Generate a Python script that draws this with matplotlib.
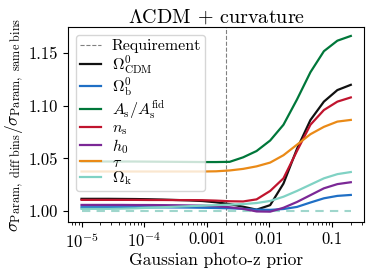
import matplotlib
matplotlib.use("Agg")
import matplotlib.pyplot as plt
from matplotlib.ticker import FixedLocator, NullFormatter

plt.rcParams['font.family'] = 'serif'
plt.rcParams['font.serif'] = ['cmr10']
plt.rcParams['mathtext.fontset'] = 'cm'
plt.rcParams['axes.formatter.use_mathtext'] = True

# photo-z prior grid
prior = [1.0e-5, 1.64e-5, 2.69e-5, 4.42e-5, 7.25e-5, 1.19e-4, 1.95e-4, 3.20e-4,
         5.25e-4, 8.61e-4, 1.41e-3, 2.32e-3, 3.81e-3, 6.25e-3, 1.03e-2, 1.68e-2,
         2.76e-2, 4.53e-2, 7.43e-2, 1.22e-1, 2.0e-1]

omega_cdm = [1.0115, 1.0115, 1.0115, 1.0114, 1.0113, 1.0111, 1.0108, 1.0104, 1.0100, 1.0094,
             1.0082, 1.0065, 1.0040, 1.0012, 1.0055, 1.0260, 1.0590, 1.0865, 1.1040, 1.1150, 1.1200]
omega_b = [1.0035, 1.0035, 1.0035, 1.0035, 1.0035, 1.0034, 1.0034, 1.0033, 1.0032, 1.0030,
           1.0028, 1.0025, 1.0020, 1.0012, 1.0010, 1.0018, 1.0038, 1.0080, 1.0120, 1.0143, 1.0152]
a_s = [1.0470, 1.0470, 1.0470, 1.0470, 1.0470, 1.0469, 1.0468, 1.0467, 1.0466, 1.0465,
       1.0465, 1.0467, 1.0510, 1.0570, 1.0670, 1.0820, 1.1060, 1.1320, 1.1520, 1.1620, 1.1665]
n_s = [1.0105, 1.0105, 1.0105, 1.0105, 1.0105, 1.0104, 1.0104, 1.0103, 1.0103, 1.0102,
       1.0098, 1.0092, 1.0090, 1.0110, 1.0190, 1.0310, 1.0570, 1.0820, 1.0960, 1.1040, 1.1080]
h_0 = [1.0057, 1.0057, 1.0057, 1.0057, 1.0056, 1.0056, 1.0055, 1.0054, 1.0052, 1.0050,
       1.0045, 1.0035, 1.0020, 0.9995, 0.9993, 1.0030, 1.0085, 1.0150, 1.0215, 1.0255, 1.0273]
tau = [1.0375, 1.0375, 1.0375, 1.0375, 1.0375, 1.0375, 1.0375, 1.0375, 1.0375, 1.0375,
       1.0377, 1.0385, 1.0400, 1.0424, 1.0460, 1.0530, 1.0630, 1.0730, 1.0800, 1.0850, 1.0866]
omega_k = [1.0020, 1.0020, 1.0020, 1.0022, 1.0025, 1.0030, 1.0035, 1.0040, 1.0045, 1.0050,
           1.0055, 1.0060, 1.0065, 1.0075, 1.0095, 1.0135, 1.0190, 1.0250, 1.0310, 1.0350, 1.0370]
baseline = [1.0] * len(prior)
requirement = 0.002

series = [
    (omega_cdm, r'$\Omega^0_{\rm CDM}$', '#111111'),
    (omega_b, r'$\Omega^0_{\rm b}$', '#1f6fc5'),
    (a_s, r'$A_{\rm s}/A_{\rm s}^{\rm fid}$', '#00773a'),
    (n_s, r'$n_{\rm s}$', '#c0142e'),
    (h_0, r'$h_0$', '#7b2896'),
    (tau, r'$\tau$', '#ea8a17'),
    (omega_k, r'$\Omega_{\rm k}$', '#80d2c4'),
]

fig = plt.figure(figsize=(3.74, 2.73), dpi=100)
ax = fig.add_axes([0.182, 0.187, 0.792, 0.714])

ax.axvline(requirement, color='gray', ls='--', lw=0.8, label='Requirement')
ax.plot(prior, baseline, color='#9fd6cc', ls='--', lw=1.5, dashes=(4, 3))
for y, name, c in series:
    ax.plot(prior, y, color=c, lw=1.6, label=name)

ax.set_xscale('log')
ax.set_ylim(0.9895, 1.175)
ax.xaxis.set_major_locator(FixedLocator([1e-5, 1e-4, 1e-3, 1e-2, 1e-1]))
ax.set_xticklabels([r'$10^{-5}$', r'$10^{-4}$', '0.001', '0.01', '0.1'])
ax.xaxis.set_minor_formatter(NullFormatter())
ax.set_yticks([1.00, 1.05, 1.10, 1.15])
ax.set_yticklabels(['1.00', '1.05', '1.10', '1.15'])
ax.tick_params(labelsize=12)

ax.set_xlabel('Gaussian photo-z prior', fontsize=12.5, labelpad=1)
ax.set_ylabel(r'$\sigma_{\rm Param,\ diff\ bins}/\sigma_{\rm Param,\ same\ bins}$', fontsize=12.5, labelpad=2)
ax.set_title(r'$\Lambda$CDM + curvature', fontsize=14.5, pad=3)

ax.legend(loc='upper left', fontsize=11.5, handlelength=1.3, labelspacing=0.0,
          borderpad=0.25, handletextpad=0.7)

plt.savefig('out.png', dpi=100)
